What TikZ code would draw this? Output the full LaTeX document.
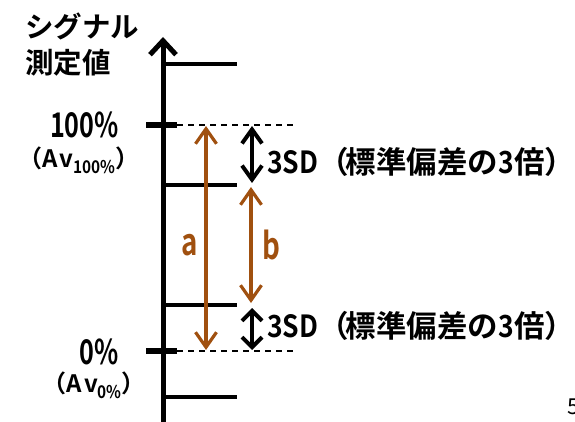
\documentclass[tikz,border=0pt]{standalone}
\usepackage{graphicx}
\usepackage{fontspec}
\setmainfont{Noto Sans CJK JP Bold}
\newfontfamily\jpb{Noto Sans CJK JP Bold}
\newfontfamily\jpr{Noto Sans CJK JP}
\usetikzlibrary{arrows.meta}
\definecolor{brn}{RGB}{160,80,15}
\newcommand{\narw}[2]{\scalebox{#1}[1]{#2}}
\tikzset{
  hline/.style={line width=3.2pt},
  tickmark/.style={line width=5.5pt},
  dashline/.style={line width=1.4pt, dash pattern=on 6pt off 5pt},
  brownarr/.style={brn, line width=3.2pt, {Straight Barb[length=15pt,width=21pt]}-{Straight Barb[length=15pt,width=21pt]}},
  blackarr/.style={black, line width=4pt, {Straight Barb[length=14pt,width=20pt]}-{Straight Barb[length=14pt,width=20pt]}},
  lbl/.style={inner sep=0pt, font=\fontsize{30.5}{32}\selectfont},
}
\begin{document}
\begin{tikzpicture}[x=1pt,y=-1pt]
\useasboundingbox (0,0) rectangle (575,422);
% axis
\coordinate (ab) at (163,430);
\coordinate (at) at (163,37);
\draw[line width=5pt, -{Straight Barb[length=14pt,width=26pt]}] (ab) -- (at);
% horizontal lines
\foreach \y/\n in {64/h1,185/h2,305/h3,397/h4}{
  \coordinate (\n l) at (163,\y);
  \coordinate (\n r) at (237,\y);
  \draw[hline] (\n l) -- (\n r);
}
% ticks and dashed
\coordinate (t1a) at (146,125); \coordinate (t1b) at (177,125); \coordinate (d1) at (296,125);
\coordinate (t0a) at (146,351); \coordinate (t0b) at (177,351); \coordinate (d0) at (296,351);
\draw[tickmark] (t1a) -- (t1b);
\draw[tickmark] (t0a) -- (t0b);
\draw[dashline] (t1b) -- (d1);
\draw[dashline] (t0b) -- (d0);
% brown arrows
\coordinate (a1) at (206,126); \coordinate (a0) at (206,350);
\draw[brownarr] (a1) -- (a0);
\coordinate (b1) at (251,187); \coordinate (b0) at (251,303);
\draw[brownarr] (b1) -- (b0);
\node[inner sep=0pt, text=brn, font=\fontsize{37}{40}\selectfont] (la) at (190,245) {\narw{0.75}{a}};
\node[inner sep=0pt, text=brn, font=\fontsize{37}{40}\selectfont] (lb) at (271,245) {\narw{0.75}{b}};
% black arrows
\coordinate (s1) at (252,126); \coordinate (s2) at (252,183);
\draw[blackarr] (s1) -- (s2);
\coordinate (s3) at (252,308); \coordinate (s4) at (252,350);
\draw[black, line width=4pt, {Straight Barb[length=10pt,width=20pt]}-{Straight Barb[length=10pt,width=20pt]}] (s3) -- (s4);
\node[lbl, anchor=west] (sd1) at (267,162) {\narw{0.87}{3SD}（\kern-3pt 標準偏差の\narw{0.87}{3}倍）};
\node[lbl, anchor=west] (sd2) at (267,326) {\narw{0.87}{3SD}（\kern-3pt 標準偏差の\narw{0.87}{3}倍）};
% left labels
\node[inner sep=0pt, anchor=west, font=\jpb\fontsize{28.5}{30}\selectfont] (t1) at (25,26) {シグナル};
\node[inner sep=0pt, anchor=west, font=\jpb\fontsize{28.5}{30}\selectfont] (t2) at (25,63) {測定値};
\node[inner sep=0pt, anchor=east, font=\jpb\fontsize{34}{36}\selectfont] (p100) at (119,125) {\narw{0.74}{100\%}};
\node[inner sep=0pt, anchor=east, font=\fontsize{24}{26}\selectfont] (av100) at (140,160) {（A\kern2pt v{\fontsize{17.5}{18}\selectfont\raisebox{-6pt}{\narw{0.88}{100\%}}}）};
\node[inner sep=0pt, anchor=east, font=\jpb\fontsize{34}{36}\selectfont] (p0) at (119,352) {\narw{0.74}{0\%}};
\node[inner sep=0pt, anchor=east, font=\fontsize{24}{26}\selectfont] (av0) at (146,385) {（A\kern2pt v{\fontsize{17.5}{18}\selectfont\raisebox{-6pt}{\narw{0.88}{0\%}}}）};
\node[inner sep=0pt, anchor=north west, font=\jpr\fontsize{22}{24}\selectfont] (pg) at (567,399) {5};
\end{tikzpicture}
\end{document}
